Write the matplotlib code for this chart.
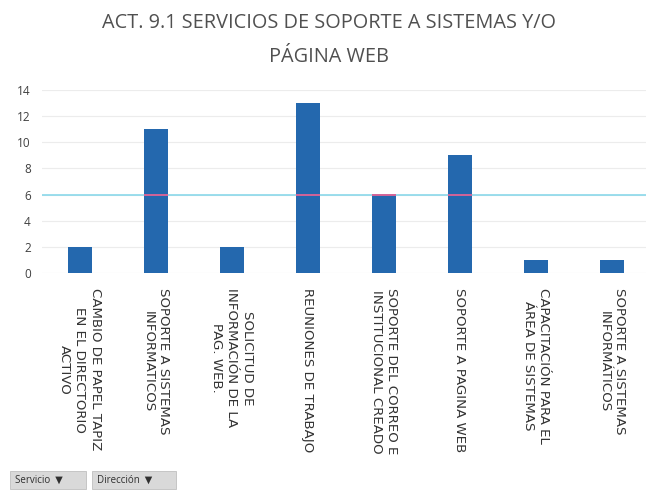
import matplotlib
matplotlib.use("Agg")
import matplotlib.pyplot as plt
from matplotlib.patches import FancyBboxPatch

categories = [
    "CAMBIO DE PAPEL TAPIZ\nEN EL DIRECTORIO\nACTIVO",
    "SOPORTE A SISTEMAS\nINFORMATICOS",
    "SOLICITUD DE\nINFORMACIÓN DE LA\nPAG. WEB.",
    "REUNIONES DE TRABAJO",
    "SOPORTE DEL CORREO E\nINSTITUCIONAL CREADO",
    "SOPORTE A PAGINA WEB",
    "CAPACITACIÓN PARA EL\nÁREA DE SISTEMAS",
    "SOPORTE A SISTEMAS\nINFORMÁTICOS",
]
values = [2, 11, 2, 13, 6, 9, 1, 1]
threshold = 6
yticks = [0, 2, 4, 6, 8, 10, 12, 14]
title = "ACT. 9.1 SERVICIOS DE SOPORTE A SISTEMAS Y/O\nPÁGINA WEB"

plt.rcParams['font.family'] = ['Open Sans', 'DejaVu Sans']

fig = plt.figure(figsize=(6.46, 4.93), dpi=100)
ax = fig.add_axes([42/646, 1-273/493, 604/646, (273-90)/493])

x = list(range(len(values)))
ax.bar(x, values, width=0.32, color="#2468ae", zorder=2)
ax.set_ylim(0, 14)
ax.set_xlim(-0.5, 7.45)
ax.set_yticks(yticks)
ax.set_yticklabels([str(v) for v in yticks], fontsize=8.5, color="#404040")
ax.set_xticks(x)
ax.set_xticklabels(categories, rotation=-90, fontsize=9.6, color="#333333",
                   va="top", ha="center", linespacing=1.25,
                   family=['DejaVu Sans'])
ax.tick_params(axis="y", length=0, pad=8)
ax.tick_params(axis="x", length=0, pad=11)
for s in ax.spines.values():
    s.set_visible(False)
ax.yaxis.grid(True, color="#ececec", linewidth=0.8, zorder=0)
ax.set_axisbelow(True)

ax.axhline(threshold, color="#8ad8ea", linewidth=1.2, zorder=3)
for xi, v in zip(x, values):
    if v >= threshold:
        ax.hlines(threshold, xi - 0.16, xi + 0.16, color="#e0508a", linewidth=1.2, zorder=4)

fig.text(0.51, 1 - 40/493, title, ha="center", va="center", fontsize=14.3,
         color="#505050", linespacing=1.95)

# filter buttons
for (x0, w, label) in [(10, 76, "Servicio"), (92, 84, "Dirección")]:
    box = FancyBboxPatch((x0/646, 1-489/493), w/646, 18/493,
                         boxstyle="square,pad=0", transform=fig.transFigure,
                         facecolor="#d9d9d9", edgecolor="#bfbfbf", linewidth=0.6)
    fig.patches.append(box)
    fig.text((x0+5)/646, 1-480/493, label + "  \u25BC", fontsize=7, color="#303030",
             va="center", ha="left", family=['Open Sans', 'DejaVu Sans'])

fig.savefig("out.png", dpi=100, facecolor="white")
